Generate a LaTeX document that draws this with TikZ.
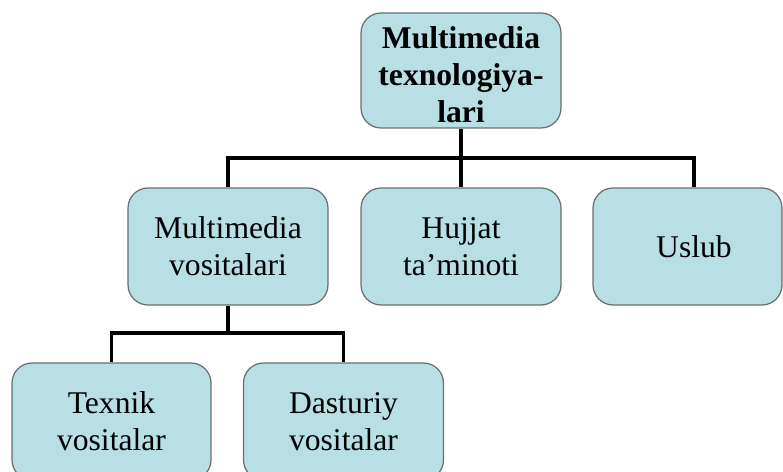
\documentclass[tikz,border=0pt]{standalone}
\usepackage{fontspec}
\setmainfont{Liberation Serif}
\usepackage{tikz}
\definecolor{blokfill}{RGB}{184,223,227}
\definecolor{blokline}{RGB}{105,110,112}

\begin{document}
\begin{tikzpicture}[line cap=round,line join=round,x=0.02cm,y=-0.02cm,
    blok/.style={draw=blokline,fill=blokfill,line width=0.7pt,rounded corners=0.4cm,
      minimum width=4cm,minimum height=2.34cm,align=center,inner sep=0pt,
      font=\fontsize{18}{21}\selectfont},
    ulagich/.style={line width=1.8pt,line cap=butt,line join=miter}]
        \useasboundingbox (0,0) rectangle (783,472);
        \clip (0,0) rectangle (783,472);
        \node[blok,minimum height=2.3cm] (top) at (461,70.5)
          {\raisebox{-0.08cm}[\height][\depth]{\parbox{3.9cm}{\centering\bfseries Multimedia\\texnologiya-\\lari}}};
        \node[blok] (mv) at (228,246.5) {Multimedia\\vositalari};
        \node[blok] (hj) at (461,246.5) {Hujjat\\ta'minoti};
        \node[blok,minimum width=3.78cm] (us) at (687.5,246.5) {\hspace*{0.26cm}Uslub};
        \node[blok,minimum width=3.98cm] (tx) at (111.5,421.5) {Texnik\\vositalar};
        \node[blok] (ds) at (343.5,421.5) {Dasturiy\\vositalar};
        \coordinate (j1) at (461,158);
        \coordinate (j2) at (228,333);
        \coordinate (usx) at ([xshift=0.13cm]us.north);
        \draw[ulagich] (top.south) -- (hj.north);
        \draw[ulagich] (mv.north) -- (mv.north |- j1) -- (usx |- j1) -- (usx);
        \draw[ulagich] (mv.south) -- (mv.south |- j2);
        \draw[ulagich] (tx.north) -- (tx.north |- j2) -- (ds.north |- j2) -- (ds.north);
\end{tikzpicture}
\end{document}
